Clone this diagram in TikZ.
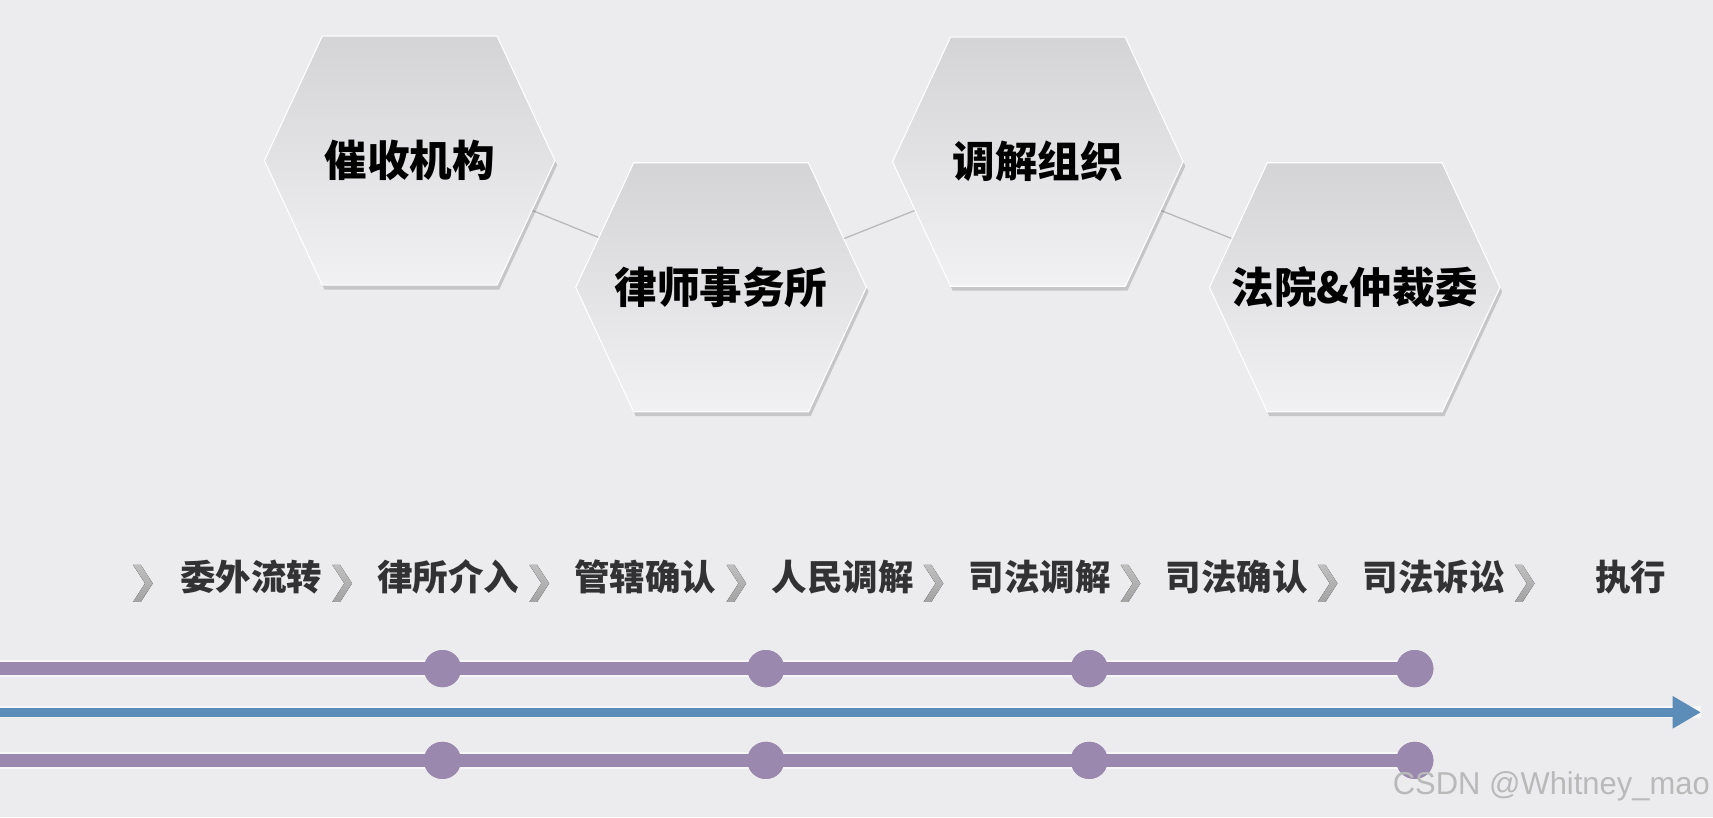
\documentclass[tikz,border=0pt]{standalone}
\usepackage{fontspec,graphicx}
\setmainfont{Liberation Sans}
\newfontfamily\cjk{Noto Sans CJK SC}
\usetikzlibrary{shapes.geometric,arrows.meta,positioning,calc}
\pgfdeclarelayer{back}\pgfsetlayers{back,main}
\definecolor{bgc}{RGB}{236,235,238}\definecolor{hxa}{RGB}{212,212,215}\definecolor{hxb}{RGB}{241,241,243}
\definecolor{lav}{RGB}{154,136,174}\definecolor{stl}{RGB}{92,140,184}\definecolor{ink}{RGB}{50,50,52}
\newcommand{\hexp}[2]{($(path picture bounding box.center)+(#1-133,#2)$)--($(path picture bounding box.center)+(#1-80,#2-114)$)
  --($(path picture bounding box.center)+(#1+80,#2-114)$)--($(path picture bounding box.center)+(#1+133,#2)$)
  --($(path picture bounding box.center)+(#1+80,#2+114)$)--($(path picture bounding box.center)+(#1-80,#2+114)$)--cycle}
\tikzset{hx/.style={rectangle,minimum width=274pt,minimum height=240pt,inner sep=0pt,font=\cjk\bfseries\fontsize{39}{42}\selectfont,
  path picture={\fill[black,opacity=.16]\hexp{2}{4};\shadedraw[top color=hxa,bottom color=hxb,draw=white,line width=1pt]\hexp{0}{0};}},
 lk/.style={draw=gray!55,line width=1.2pt},
 st/.style={font=\cjk\bfseries\fontsize{32.5}{35}\selectfont,text=ink,minimum width=130pt,inner sep=0pt},
 ch/.style={top color=gray!50,bottom color=gray!72,draw=none},
 tl/.style={lav,line width=12pt,preaction={draw=white,line width=15pt,opacity=.6}},
 dt/.style={circle,fill=lav,minimum size=34pt,inner sep=0pt},
 ax/.style={stl,line width=8pt,-{Triangle[length=26pt,width=28pt]},preaction={draw=white,line width=11pt,opacity=.6,-}}}
\newcommand{\chev}[1]{\fill[ch,shift={(#1)}](-9,-17)--(-2,-17)--(9,0)--(-2,17)--(-9,17)--(2,0)--cycle;}

\begin{document}
\begin{tikzpicture}[x=1pt,y=-1pt,node distance=50pt]
\useasboundingbox (0,0) rectangle (1568,748);
\begin{pgfonlayer}{back}\fill[bgc](0,0) rectangle (1568,748);\end{pgfonlayer}
% hexagons
\node[hx](h1) at (375,147){催收机构};\node[hx](h2) at (660,263){律师事务所};
\node[hx](h3) at (950,148){调解组织};\node[hx](h4) at (1240,263){法院\&仲裁委};
\begin{pgfonlayer}{back}
\draw[lk](h1.center)--(h2.center);\draw[lk](h2.center)--(h3.center);\draw[lk](h3.center)--(h4.center);
\end{pgfonlayer}
% stages
\node[st](s1) at (230,528){委外流转};\node[st,right=of s1](s2){律所介入};\node[st,right=of s2](s3){管辖确认};
\node[st,right=of s3](s4){人民调解};\node[st,right=of s4](s5){司法调解};\node[st,right=of s5](s6){司法确认};
\node[st,right=of s6](s7){司法诉讼};\node[st,right=of s7](s8){执行};
\chev{$(s1.west)+(-34,6)$}
\foreach \n in {1,...,7}{\chev{$(s\n.east)+(18,6)$}}
% timeline
\coordinate(p0) at (0,612);\coordinate(q0) at (0,696);\coordinate(b0) at (0,652);\coordinate(b1) at (1557,652);
\foreach \x [count=\i] in {405,701,997,1295}{\node[dt](u\i) at (\x,612){};\node[dt](v\i) at (\x,696){};}
\draw[tl](p0)--(u4.center);\draw[tl](q0)--(v4.center);
\foreach \i in {1,...,4}{\node[dt] at (u\i){};\node[dt] at (v\i){};}
\draw[ax](b0)--(b1);
\node[inner sep=0pt,text=gray!55](wm) at (1420,720){\resizebox*{290pt}{27pt}{CSDN @Whitney\_mao}};
\end{tikzpicture}
\end{document}
